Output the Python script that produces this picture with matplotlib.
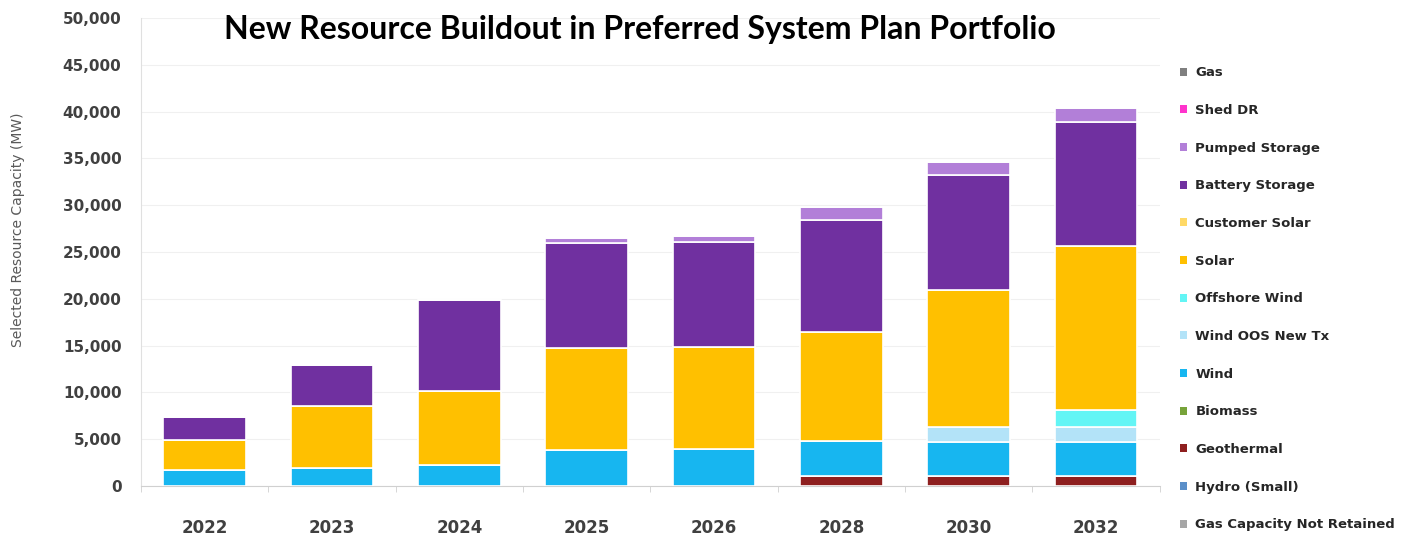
import numpy as np
import matplotlib.pyplot as plt
from matplotlib.patches import Patch

# years shown on the x axis
years = ["2022", "2023", "2024", "2025", "2026", "2028", "2030", "2032"]

# capacity by resource (MW)
gas_not_retained = [0, 0, 0, 0, 0, 0, 0, 0]
hydro_small = [0, 0, 0, 0, 0, 0, 0, 0]
geothermal = [0, 0, 0, 0, 0, 1100, 1100, 1100]
biomass = [0, 0, 0, 0, 0, 0, 0, 0]
wind = [1700, 1900, 2200, 3850, 4000, 3700, 3600, 3600]
wind_oos = [0, 0, 0, 0, 0, 0, 1600, 1600]
offshore_wind = [0, 0, 0, 0, 0, 0, 0, 1800]
solar = [3200, 6600, 7900, 10900, 10900, 11700, 14600, 17500]
customer_solar = [0, 0, 0, 0, 0, 0, 0, 0]
battery = [2500, 4400, 9800, 11200, 11200, 11900, 12300, 13300]
pumped = [0, 0, 0, 500, 600, 1400, 1400, 1500]
shed_dr = [0, 0, 0, 0, 0, 0, 0, 0]
gas = [0, 0, 0, 0, 0, 0, 0, 0]

# bottom -> top stacking order
series = [
    ("Gas Capacity Not Retained", gas_not_retained, "#a6a6a6"),
    ("Hydro (Small)", hydro_small, "#5b8fc9"),
    ("Geothermal", geothermal, "#8e1f1f"),
    ("Biomass", biomass, "#77a33a"),
    ("Wind", wind, "#17b6f0"),
    ("Wind OOS New Tx", wind_oos, "#b3e3f8"),
    ("Offshore Wind", offshore_wind, "#63f5f5"),
    ("Solar", solar, "#ffc000"),
    ("Customer Solar", customer_solar, "#ffd966"),
    ("Battery Storage", battery, "#7030a0"),
    ("Pumped Storage", pumped, "#b27fd8"),
    ("Shed DR", shed_dr, "#ff33cc"),
    ("Gas", gas, "#7f7f7f"),
]

fig = plt.figure(figsize=(14.11, 5.39), dpi=100)
ax = fig.add_axes([0.0999, 0.0983, 0.722, 0.8683])

x = np.arange(len(years))
bottom = np.zeros(len(years))
for name, vals, col in series:
    vals = np.array(vals, dtype=float)
    ax.bar(x, vals, width=0.65, bottom=bottom, color=col,
           edgecolor="white", linewidth=1.2, zorder=3)
    bottom += vals

ax.set_xlim(-0.5, len(years) - 0.5)
ax.set_ylim(0, 50000)
ax.set_yticks(np.arange(0, 50001, 5000))
ax.set_yticklabels([f"{v:,}" for v in range(0, 50001, 5000)],
                   fontsize=11, fontweight="bold", color="#404040")
ax.set_xticks(x)
ax.set_xticklabels(years, fontsize=12, fontweight="bold", color="#404040")
ax.set_xticks(np.arange(-0.5, len(years)), minor=True)
ax.tick_params(axis="x", which="major", length=0, pad=24)
ax.tick_params(axis="x", which="minor", length=4, color="#d0d0d0")
ax.tick_params(axis="y", length=0, pad=14)
ax.grid(axis="y", color="#f0f0f0", linewidth=0.8, zorder=0)

for s in ["top", "right"]:
    ax.spines[s].set_visible(False)
ax.spines["left"].set_color("#e0e0e0")
ax.spines["bottom"].set_color("#d0d0d0")

fig.text(0.0128, 0.573, "Selected Resource Capacity (MW)", rotation=90,
         ha="center", va="center", fontsize=10, color="#595959")
fig.text(0.4537, 0.946, "New Resource Buildout in Preferred System Plan Portfolio",
         ha="center", va="center", fontsize=23, fontweight="bold",
         family="Lato", color="black")

handles = [Patch(facecolor=col, edgecolor="none", label=name)
           for name, vals, col in reversed(series)]
leg = fig.legend(handles=handles, loc="upper left", bbox_to_anchor=(0.828, 0.899),
                 frameon=False, handlelength=0.55, handleheight=0.55,
                 handletextpad=0.6, labelspacing=1.87,
                 prop={"weight": "bold", "size": 9.5})
for t in leg.get_texts():
    t.set_color("#262626")

plt.savefig("out.png", dpi=100)
